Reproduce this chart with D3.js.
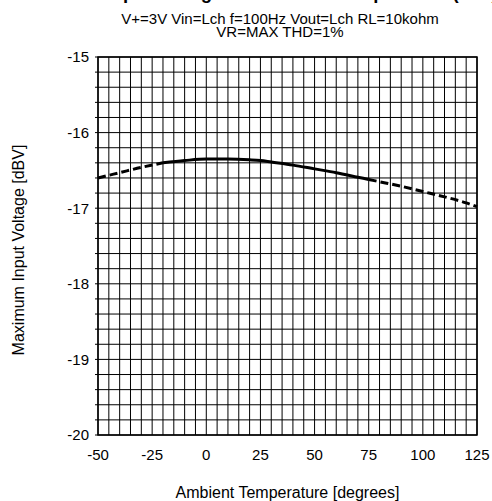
<!DOCTYPE html>
<html><head><meta charset="utf-8">
<script src="https://cdn.jsdelivr.net/npm/d3@7"></script>
<style>body{margin:0;background:#fff}svg{display:block}text{font-family:"Liberation Sans",Arial,sans-serif;fill:#000}</style>
</head><body>
<svg id="c" width="492" height="501"></svg>
<script>
const titleText = "Maximum Input Voltage vs. Ambient Temperature (Lch)";
const subtitle1 = "V+=3V Vin=Lch f=100Hz Vout=Lch RL=10kohm";
const subtitle2 = "VR=MAX THD=1%";
const xLabel = "Ambient Temperature [degrees]";
const yLabel = "Maximum Input Voltage [dBV]";
const xTicks = [-50, -25, 0, 25, 50, 75, 100, 125];
const yTicks = [-15, -16, -17, -18, -19, -20];
// dashed (left extrapolation)
const dashLeftT = [-50, -40, -30, -20];
const dashLeftV = [-16.60, -16.53, -16.46, -16.40];
// solid (guaranteed range)
const solidT = [-20, -10, 0, 10, 20, 25, 30, 40, 50, 60, 70, 75];
const solidV = [-16.40, -16.37, -16.35, -16.35, -16.36, -16.37, -16.39, -16.43, -16.48, -16.53, -16.59, -16.62];
// dashed (right extrapolation)
const dashRightT = [75, 80, 90, 100, 110, 120, 125];
const dashRightV = [-16.62, -16.65, -16.71, -16.78, -16.85, -16.93, -16.98];

const svg = d3.select("#c");
const L = 98, R = 477, T = 57, B = 435;
const x = d3.scaleLinear().domain([-50, 125]).range([L, R]);
const y = d3.scaleLinear().domain([-20, -15]).range([B, T]);

// grid
const g = svg.append("g");
g.selectAll("line.v").data(d3.range(-50, 126, 5)).join("line")
  .attr("x1", d => x(d)).attr("x2", d => x(d)).attr("y1", T).attr("y2", B)
  .attr("stroke", "#000").attr("stroke-width", 1);
g.selectAll("line.h").data(d3.range(0, 26).map(i => -20 + i * 0.2)).join("line")
  .attr("y1", d => y(d)).attr("y2", d => y(d)).attr("x1", L).attr("x2", R)
  .attr("stroke", "#000").attr("stroke-width", 1);
svg.append("rect").attr("x", L).attr("y", T).attr("width", R - L).attr("height", B - T)
  .attr("fill", "none").attr("stroke", "#000").attr("stroke-width", 1.5);

// minor y ticks
g.selectAll("line.t").data(d3.range(0, 26).map(i => -20 + i * 0.2)).join("line")
  .attr("y1", d => y(d)).attr("y2", d => y(d)).attr("x1", L - 3).attr("x2", L)
  .attr("stroke", "#000").attr("stroke-width", 1);

// axes labels
svg.append("g").selectAll("text").data(xTicks).join("text")
  .attr("x", d => x(d)).attr("y", 460).attr("text-anchor", "middle")
  .attr("font-size", 15).text(d => d);
svg.append("g").selectAll("text").data(yTicks).join("text")
  .attr("x", 89).attr("y", d => y(d)).attr("dy", "0.36em").attr("text-anchor", "end")
  .attr("font-size", 15).text(d => d);

svg.append("text").attr("x", 287.5).attr("y", 498).attr("text-anchor", "middle")
  .attr("font-size", 16).text(xLabel);
svg.append("text").attr("transform", "translate(24,250) rotate(-90)").attr("text-anchor", "middle")
  .attr("font-size", 16).text(yLabel);

svg.append("text").attr("x", 16).attr("y", -1).attr("font-size", 18.5).attr("font-weight", "bold").text(titleText);
svg.append("text").attr("x", 280).attr("y", 24).attr("text-anchor", "middle").attr("font-size", 15).text(subtitle1);
svg.append("text").attr("x", 280).attr("y", 37).attr("text-anchor", "middle").attr("font-size", 15).text(subtitle2);

const line = d3.line().x(d => x(d[0])).y(d => y(d[1])).curve(d3.curveMonotoneX);
const zip = (a, b) => a.map((v, i) => [v, b[i]]);
svg.append("path").datum(zip(dashLeftT, dashLeftV)).attr("d", line)
  .attr("fill", "none").attr("stroke", "#000").attr("stroke-width", 3).attr("stroke-dasharray", "8,4");
svg.append("path").datum(zip(solidT, solidV)).attr("d", line)
  .attr("fill", "none").attr("stroke", "#000").attr("stroke-width", 3);
svg.append("path").datum(zip(dashRightT, dashRightV)).attr("d", line)
  .attr("fill", "none").attr("stroke", "#000").attr("stroke-width", 3).attr("stroke-dasharray", "8,4");
</script>
</body></html>
